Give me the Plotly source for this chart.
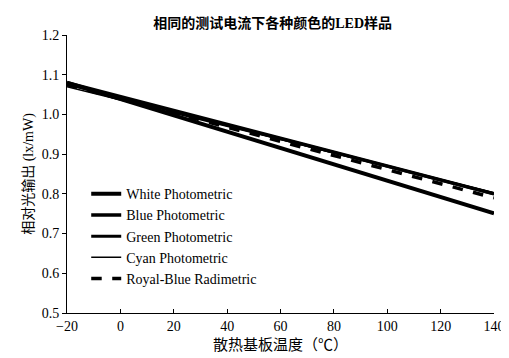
import plotly.graph_objects as go

temps = [-20, 0, 20, 40, 60, 80, 100, 120, 140]
white = [1.080, 1.039, 0.998, 0.957, 0.915, 0.874, 0.833, 0.792, 0.751]
blue = [1.080, 1.045, 1.010, 0.975, 0.940, 0.905, 0.870, 0.835, 0.800]
green = [1.077, 1.042, 1.008, 0.973, 0.939, 0.904, 0.869, 0.835, 0.800]
cyan = [1.070, 1.037, 1.003, 0.970, 0.937, 0.903, 0.870, 0.836, 0.803]
royal = [1.075, 1.040, 1.004, 0.968, 0.932, 0.897, 0.861, 0.826, 0.790]

names = ["White Photometric", "Blue Photometric", "Green Photometric",
         "Cyan Photometric", "Royal-Blue Radimetric"]
series = [white, blue, green, cyan, royal]
widths = [4, 3.5, 3, 1.5, 3.5]
dashes = ["solid", "solid", "solid", "solid", "dash"]

fig = go.Figure()
for i, (n, s, w, d) in enumerate(zip(names, series, widths, dashes)):
    fig.add_trace(go.Scatter(x=temps, y=s, name=n, mode="lines",
                             legendgroup=f"g{i}",
                             line=dict(color="black", width=w, dash=d)))

serif = "Liberation Serif, Times New Roman, serif"
cjk = "Liberation Serif, Noto Sans CJK SC, serif"
fig.update_layout(
    width=509, height=358,
    margin=dict(l=59, r=23, t=27, b=53),
    paper_bgcolor="white", plot_bgcolor="white",
    title=dict(text="<b>相同的测试电流下各种颜色的LED样品</b>", x=0.52, xanchor="center",
               y=0.958, yanchor="middle",
               font=dict(family=cjk, size=14, color="black")),
    xaxis=dict(range=[-20, 140], tickvals=temps, showline=True, linecolor="black",
               linewidth=1, ticks="inside", ticklen=4, tickcolor="black",
               showgrid=False, zeroline=False,
               tickfont=dict(family=serif, size=14, color="black"),
               title=dict(text="散热基板温度（℃）", standoff=6,
                          font=dict(family=cjk, size=15, color="black"))),
    yaxis=dict(range=[0.5, 1.2], dtick=0.1, tickformat=".1f", showline=True,
               linecolor="black", linewidth=1, ticks="outside", ticklen=4,
               tickcolor="black", showgrid=False, zeroline=False,
               tickfont=dict(family=serif, size=14, color="black"),
               title=dict(text="相对光输出 (lx/mW)", standoff=4,
                          font=dict(family=cjk, size=14, color="black"))),
    legend=dict(x=0.045, y=0.485, xanchor="left", yanchor="top",
                bgcolor="rgba(0,0,0,0)", itemwidth=30, tracegroupgap=0,
                font=dict(family=serif, size=14, color="black")),
)
fig.write_html("out.html")
